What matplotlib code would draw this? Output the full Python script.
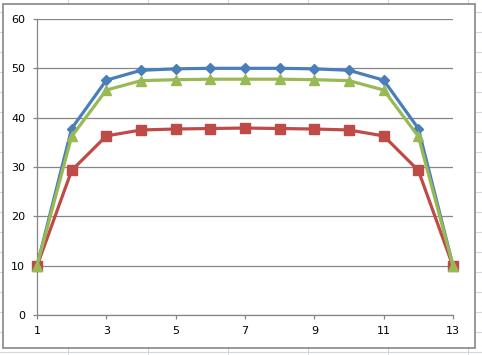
import matplotlib
matplotlib.use("Agg")
import matplotlib.pyplot as plt
from matplotlib.lines import Line2D
from matplotlib.patches import Rectangle

x = list(range(1, 14))
series_blue = [10, 37.8, 47.6, 49.6, 49.9, 50.0, 50.0, 50.0, 49.9, 49.6, 47.6, 37.8, 10]
series_red = [9.9, 29.3, 36.3, 37.5, 37.7, 37.8, 37.9, 37.8, 37.7, 37.5, 36.3, 29.3, 9.9]
series_green = [10, 36.2, 45.6, 47.5, 47.7, 47.8, 47.8, 47.8, 47.7, 47.5, 45.6, 36.2, 10]
x_ticks = [1, 3, 5, 7, 9, 11, 13]
y_ticks = [0, 10, 20, 30, 40, 50, 60]

W, H = 482, 355
fig = plt.figure(figsize=(W / 100, H / 100), dpi=100)
fig.patch.set_facecolor("white")

# faint spreadsheet cell lines behind the chart
cell = "#D0D7E5"
for px in [68, 148, 228, 308, 388, 468]:
    fig.add_artist(Line2D([px / W, px / W], [0, 1], color=cell, lw=0.8, transform=fig.transFigure, zorder=0))
for py in range(12, H, 20):
    fig.add_artist(Line2D([0, 1], [1 - py / H, 1 - py / H], color=cell, lw=0.8, transform=fig.transFigure, zorder=0))

# chart area
fig.add_artist(Rectangle((3 / W, 1 - 348 / H), (475 - 3) / W, (348 - 4) / H,
                         transform=fig.transFigure, facecolor="white",
                         edgecolor="#868686", lw=1.2, zorder=1))

ax = fig.add_axes([37 / W, 1 - 315 / H, (453 - 37) / W, (315 - 19) / H], zorder=2)
ax.set_facecolor("none")

ax.plot(x, series_blue, color="#4A7EBB", lw=2.3, marker="D", markersize=5.5, zorder=3, clip_on=False)
ax.plot(x, series_red, color="#BE4B48", lw=2.3, marker="s", markersize=6.5, zorder=4, clip_on=False)
ax.plot(x, series_green, color="#98B954", lw=2.3, marker="^", markersize=7.2, zorder=5, clip_on=False)

ax.set_xlim(1, 13)
ax.set_ylim(0, 60)
ax.set_xticks(x_ticks)
ax.set_yticks(y_ticks)
ax.set_xticklabels([str(v) for v in x_ticks])
ax.set_yticklabels([str(v) for v in y_ticks])
ax.grid(axis="y", color="#868686", lw=0.9)
ax.set_axisbelow(True)
for s in ["top", "right"]:
    ax.spines[s].set_visible(False)
for s in ["left", "bottom"]:
    ax.spines[s].set_color("#868686")
    ax.spines[s].set_linewidth(0.9)
ax.tick_params(axis="both", colors="#868686", labelcolor="black", labelsize=8, length=3, width=0.9)
ax.tick_params(axis="y", pad=5.5)
ax.tick_params(axis="x", pad=5)

fig.savefig("out.png", dpi=100)
